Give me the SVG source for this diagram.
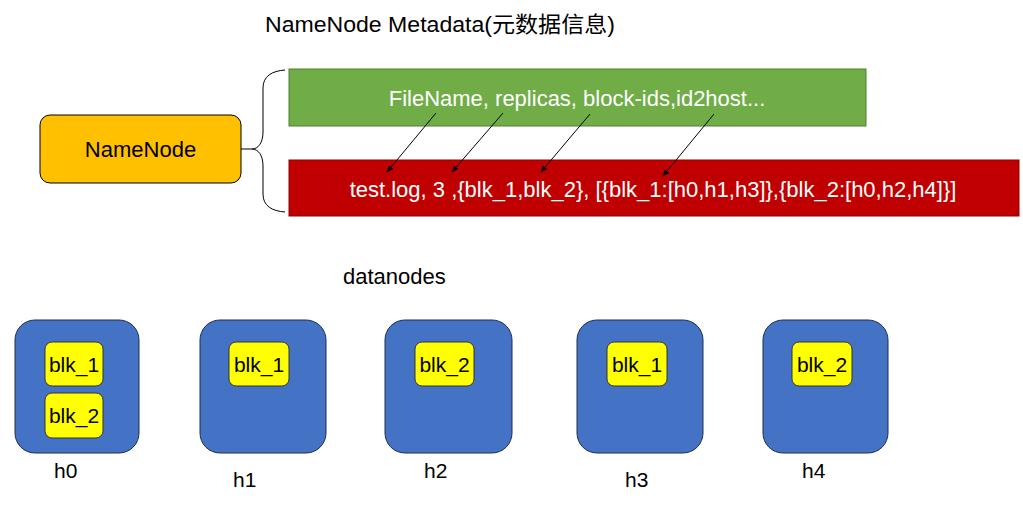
<svg xmlns="http://www.w3.org/2000/svg" width="1023" height="511" viewBox="0 0 1023 511">
<style>
text{font-family:"Liberation Sans","Noto Sans CJK SC",sans-serif;font-size:22px;fill:#000}
.w{fill:#fff}
.b{font-size:21px}
.h{font-size:21px}
.dn{fill:#4472C4;stroke:#1F2F4F;stroke-width:1}
.blk{fill:#FFFF00;stroke:#333;stroke-width:1}
.c{stroke:#000;stroke-width:1;fill:none}
</style>
<defs>
<marker id="ah" viewBox="0 0 10 10" refX="9" refY="5" markerWidth="7" markerHeight="7" orient="auto"><path d="M0,1 L10,5 L0,9 z" fill="#000"/></marker>
</defs>
<text x="265" y="32" textLength="350" lengthAdjust="spacingAndGlyphs">NameNode Metadata(元数据信息)</text>
<g id="namenode">
<rect x="40" y="115" width="201" height="68" rx="10" fill="#FFC000" stroke="#000"/>
<text x="140.5" y="157" text-anchor="middle">NameNode</text>
</g>
<g id="meta-fields">
<rect x="289" y="69" width="577" height="57" fill="#70AD47" stroke="#507E32"/>
<text class="w" x="577" y="106" text-anchor="middle">FileName, replicas, block-ids,id2host...</text>
</g>
<g id="meta-values">
<rect x="289" y="160" width="730" height="56" fill="#C00000" stroke="#8F0000"/>
<text class="w" x="653" y="197" text-anchor="middle">test.log, 3 ,{blk_1,blk_2}, [{blk_1:[h0,h1,h3]},{blk_2:[h0,h2,h4]}]</text>
</g>
<g id="connectors">
<path class="c" d="M241,149 L252,149 C258,149 263,143 263,132 L263,88 C263,76 272,71 285,70"/>
<path class="c" d="M252,149 C258,149 263,155 263,166 L263,194 C263,206 272,211 285,212"/>
<line class="c" x1="436" y1="113" x2="387" y2="172" marker-end="url(#ah)"/>
<line class="c" x1="503" y1="113" x2="452" y2="172" marker-end="url(#ah)"/>
<line class="c" x1="590" y1="114" x2="541" y2="172" marker-end="url(#ah)"/>
<line class="c" x1="714" y1="114" x2="663" y2="176" marker-end="url(#ah)"/>
</g>
<text x="343" y="284">datanodes</text>
<g id="h0">
<rect class="dn" x="15" y="320" width="124" height="133" rx="20"/>
<rect class="blk" x="45" y="342" width="58" height="44" rx="7"/>
<text class="b" x="74" y="372" text-anchor="middle">blk_1</text>
<rect class="blk" x="45" y="393" width="58" height="45" rx="7"/>
<text class="b" x="74" y="423" text-anchor="middle">blk_2</text>
<text class="h" x="54" y="478">h0</text>
</g>
<g id="h1">
<rect class="dn" x="200" y="320" width="126" height="133" rx="20"/>
<rect class="blk" x="229" y="342" width="60" height="44" rx="7"/>
<text class="b" x="259" y="372" text-anchor="middle">blk_1</text>
<text class="h" x="233" y="487">h1</text>
</g>
<g id="h2">
<rect class="dn" x="385" y="320" width="127" height="133" rx="20"/>
<rect class="blk" x="415" y="342" width="59" height="44" rx="7"/>
<text class="b" x="444.5" y="372" text-anchor="middle">blk_2</text>
<text class="h" x="424" y="478">h2</text>
</g>
<g id="h3">
<rect class="dn" x="577" y="320" width="126" height="133" rx="20"/>
<rect class="blk" x="607" y="342" width="60" height="44" rx="7"/>
<text class="b" x="637" y="372" text-anchor="middle">blk_1</text>
<text class="h" x="625" y="487">h3</text>
</g>
<g id="h4">
<rect class="dn" x="763" y="320" width="125" height="133" rx="20"/>
<rect class="blk" x="792" y="342" width="60" height="44" rx="7"/>
<text class="b" x="822" y="372" text-anchor="middle">blk_2</text>
<text class="h" x="802" y="478">h4</text>
</g>
</svg>
